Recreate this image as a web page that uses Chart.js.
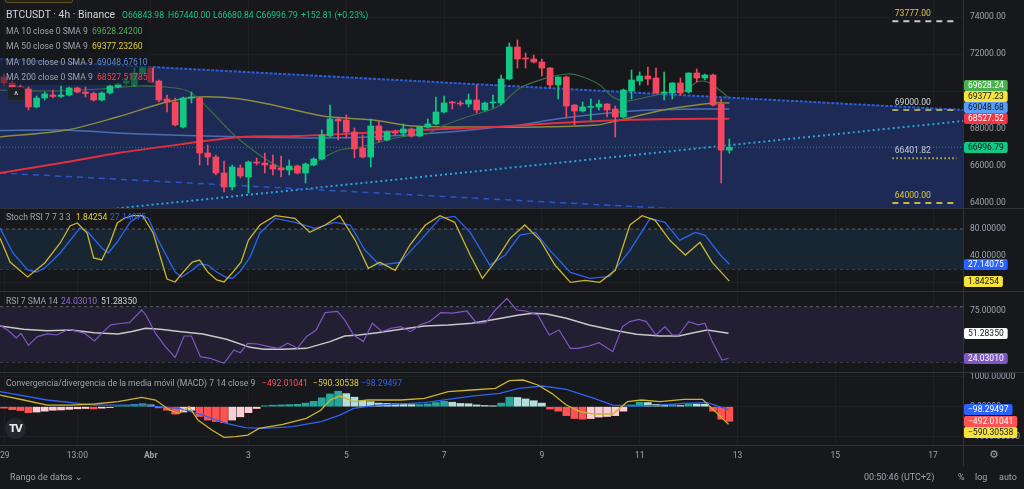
<!DOCTYPE html>
<html><head><meta charset="utf-8">
<script src="https://cdn.jsdelivr.net/npm/chart.js@4.4.1/dist/chart.umd.min.js"></script>
<style>
*{box-sizing:border-box}
html,body{margin:0;padding:0;width:1024px;height:489px;overflow:hidden;background:#16181c;font-family:Roboto,"Noto Sans",sans-serif;}
canvas{position:absolute;left:0;display:block}
.t{position:absolute;white-space:nowrap;line-height:12px;height:12px;font-size:8.6px;color:#9fa3ad;}
.hl{position:absolute;left:0;width:1024px;height:1px;background:#30333b}
</style></head><body>
<canvas id="cMain" width="1024" height="208" style="top:0"></canvas>
<canvas id="cStoch" width="1024" height="83" style="top:208px"></canvas>
<canvas id="cRsi" width="1024" height="81" style="top:291px"></canvas>
<canvas id="cMacd" width="1024" height="94" style="top:372px"></canvas>

<div class="hl" style="top:208px"></div>
<div class="hl" style="top:291px"></div>
<div class="hl" style="top:372px"></div>
<div class="hl" style="top:445px"></div>
<div style="position:absolute;left:963px;top:0;width:1px;height:466px;background:#30333b"></div>

<div style="position:absolute;left:5px;top:-9px;width:68px;height:12px;border:1px solid #5e5222;background:#24221a;border-radius:2px"></div>
<div style="position:absolute;left:0;top:23px;width:152px;height:62px;background:rgba(22,24,28,0.55)"></div>

<div class="t" style="left:6px;top:9px;font-size:10.4px;color:#d1d4dc">BTCUSDT · 4h · Binance</div>
<div class="t" style="left:122px;top:9px;color:#12c882">O66843.98</div>
<div class="t" style="left:168px;top:9px;color:#12c882">H67440.00</div>
<div class="t" style="left:213px;top:9px;color:#12c882">L66680.84</div>
<div class="t" style="left:256px;top:9px;color:#12c882">C66996.79</div>
<div class="t" style="left:301px;top:9px;color:#12c882">+152.81 (+0.23%)</div>

<div class="t" style="left:6px;top:25px">MA 10 close 0 SMA 9</div>
<div class="t" style="left:92px;top:25px;color:#4caf50">69628.24200</div>
<div class="t" style="left:6px;top:40px">MA 50 close 0 SMA 9</div>
<div class="t" style="left:92px;top:40px;color:#e2cf3a">69377.23260</div>
<div class="t" style="left:6px;top:56px">MA 100 close 0 SMA 9</div>
<div class="t" style="left:97px;top:56px;color:#5b8fdb">69048.67610</div>
<div class="t" style="left:6px;top:71px">MA 200 close 0 SMA 9</div>
<div class="t" style="left:97px;top:71px;color:#f0444f">68527.51785</div>

<div style="position:absolute;left:7px;top:87px;width:18px;height:14px;background:#1f2128;border:1px solid #2c2f37;border-radius:3px;color:#d1d4dc;font-size:10px;line-height:16px;text-align:center">^</div>

<div class="t" style="left:6px;top:211px">Stoch RSI 7 7 3 3</div>
<div class="t" style="left:76px;top:211px;color:#e2cf3a">1.84254</div>
<div class="t" style="left:110px;top:211px;color:#2f62f0">27.14075</div>

<div class="t" style="left:6px;top:295px">RSI 7 SMA 14</div>
<div class="t" style="left:61px;top:295px;color:#8e6fd6">24.03010</div>
<div class="t" style="left:101px;top:295px;color:#d1d4dc">51.28350</div>

<div class="t" style="left:6px;top:377px">Convergencia/divergencia de la media móvil (MACD) 7 14 close 9</div>
<div class="t" style="left:262px;top:377px;color:#ff5252">−492.01041</div>
<div class="t" style="left:313px;top:377px;color:#e2cf3a">−590.30538</div>
<div class="t" style="left:361px;top:377px;color:#2f62f0">−98.29497</div>

<div style="position:absolute;left:5px;top:418px;width:21px;height:21px;border-radius:50%;background:#24272f;color:#e8e8e8;font-weight:900;font-size:10px;line-height:21px;text-align:center;font-family:'DejaVu Sans',sans-serif;letter-spacing:-1px">TV</div>

<div class="t" style="left:989px;top:449px;font-size:11px;color:#9fa3ad;font-family:'DejaVu Sans',sans-serif">⚙</div>

<div class="t" style="left:10px;top:471px;font-size:9px">Rango de datos ⌄</div>
<div class="t" style="left:864px;top:471px;font-size:9px">00:50:46 (UTC+2)</div>
<div class="t" style="left:958px;top:471px;font-size:9px">%</div>
<div class="t" style="left:975px;top:471px;font-size:9px">log</div>
<div class="t" style="left:999px;top:471px;font-size:9px">auto</div>

<script>
// ---------- DATA ----------
const candleOpen = [70774,70452,70237,70129,69162,69646,69807,69730,69807,70183,
69968,69890,69538,69914,70237,70452,70345,70989,71258,70560,
69592,69430,68086,69646,69646,66689,66473,65613,64861,65882,
65398,66205,66151,66043,65882,65775,65990,65613,66043,66366,
67603,68516,68463,67818,66958,66473,68140,67388,67818,67764,
67979,67603,68086,68248,68893,69430,69377,69323,69538,69000,
69377,69377,70667,72387,71796,71742,71581,71258,70345,70774,
69269,68947,69140,69162,69323,69054,68624,70022,70560,70828,
70721,69914,69914,70452,69968,70989,70721,70882,69323,66843.98];
const candleHigh = [70936,70560,70345,70237,69753,69968,70076,70291,70237,70237,
70237,69968,69968,70345,70452,70721,71258,71312,71312,70613,
69807,69646,69699,69968,69699,67119,66581,66258,66043,66043,
66258,66420,66689,66581,66527,66312,66043,66151,66420,67925,
69269,68540,68732,68033,67656,68516,68409,67871,67925,68248,
68033,68140,68516,69699,69753,69460,69484,69861,70345,69430,
69807,70882,72602,72764,72065,71957,71742,71300,70790,70828,
69290,69430,69592,69538,69340,69215,70129,71151,71043,71312,
71258,71043,70470,70721,71000,71205,70936,70936,69592,67440.00];
const candleLow = [70345,70183,70022,69000,69108,69538,69646,69680,69753,69914,
69699,69484,69484,69861,70183,70345,70291,70936,70452,69430,
68893,68140,68033,69377,66043,66043,65506,64592,64700,65345,
64538,66043,65613,65506,65398,65506,65560,65076,65990,66312,
67549,67388,67495,66420,66420,65936,67280,67334,67656,67603,
67549,67549,68033,68194,68839,69054,69215,69162,68839,68947,
69108,69269,70613,71258,71258,71527,70828,70183,69592,68570,
68194,68893,68463,69000,68624,67549,68570,69592,70345,70345,
69890,69538,69592,69807,69914,70506,70613,69215,65076,66680.84];
const candleClose = [70452,70237,70129,69162,69646,69861,69730,69807,70183,69968,
69890,69538,69914,70291,70398,70560,70989,71258,70506,69538,
69430,68194,69646,69699,66689,66473,65613,64861,65936,65452,
66205,66151,66043,65828,65775,65990,65613,66097,66366,67656,
68516,68409,67818,66904,66473,68140,67388,67818,67764,67979,
67603,68086,68248,68893,69377,69377,69323,69538,69000,69377,
69430,70667,72387,71742,71742,71581,71258,70345,70774,69215,
68947,69162,69162,69323,69000,68624,70076,70613,70828,70667,
69914,69968,70452,69914,70989,70721,70882,69269,66843.98,66996.79];

// moving averages: [candle index, value]
const ma10 = [[-0.49,70076],[5.6,70022],[11.8,70129],[16.7,70291],[21,70183],[22.8,69968],[24.9,69162],[28.1,67710],[30.2,66958],[32.3,66312],[34.2,65882],[37.2,65936],[39.1,66420],[41.2,66850],[43.7,67011],[46.1,67280],[48.6,67549],[51.9,67710],[53.5,68086],[56.8,68624],[59.6,69000],[60.9,69269],[63.3,70183],[66.6,70721],[69.1,70936],[70.7,70828],[73.1,70345],[74.7,69699],[76.4,69484],[78.9,69699],[81.3,69914],[83.8,70076],[85,70506],[86.3,70506],[87.8,70076],[89,69628.24]];
const ma50 = [[-0.49,67549],[7.7,67925],[13.9,68624],[20,69430],[24,69699],[29,69592],[33,69269],[39.1,68678],[45.3,68463],[50.2,68140],[59.6,68086],[65.8,68086],[72.8,68194],[75.6,68463],[80.9,69000],[87,69377],[89,69377.23]];
const ma100 = [[-0.49,67893],[7,67925],[16.7,67710],[30.2,67549],[38.8,67495],[44.9,67549],[51,67710],[56,67871],[59.6,68033],[63.3,68194],[67,68463],[70.7,68678],[75.6,68893],[79.3,69000],[85.4,69054],[89,69048.68]];
const ma200 = [[-0.49,65613],[7,66151],[14,66689],[22,67173],[29,67549],[36,67603],[44,67764],[51,67925],[60,68086],[68,68302],[76,68463],[83,68516],[89,68527.52]];

// drawings on the price pane: [candle index, price]
const channelTop = [[-0.49,71742],[117.67,69000]];
const channelLow = [[-0.49,65614],[117.67,62872]];
const risingLine = [[12,63626],[117.67,68409]];
const lastPrice = 66996.79;
const levelValues = [73777.00, 69000.00, 66401.82, 64000.00];
const levelSpan = [109, 116.9];

// Stoch RSI (K yellow, D blue)
const stochK = [[-0.49,66.5],[0.74,30.5],[2.9,8],[5,29],[6.9,59],[8.1,84.5],[9,89],[10.2,74],[11,36.5],[12,33.5],[13,59],[13.9,89],[14.8,96.5],[15.8,100],[17,100],[18.3,74],[20,5],[21,0.5],[22,15.5],[23.1,30.5],[24,33.5],[25,15.5],[26.1,3.5],[27,0.5],[28.1,15.5],[29.1,30.5],[30,63.5],[31.4,86],[33.3,100],[35.7,96],[37.5,75],[39.4,86],[41.2,100],[43.1,63],[44.7,21],[46.1,30],[48,18],[49.8,56],[51.7,86],[53.5,100],[55.3,90],[57.2,41],[58.7,6],[60.2,30],[62.1,66],[63.9,86],[65.8,63],[67.6,26],[69.5,0],[71.3,3],[73.1,0],[75,18],[76.8,86],[78.3,100],[79.9,93],[81.7,63],[83.6,41],[85.4,60],[86.9,30],[89,1.84254]];
const stochD = [[-0.49,81.5],[1.1,44],[2.9,18.5],[4,15.5],[5,21.5],[6.9,44],[9.3,81.5],[10.3,75.5],[12,51.5],[12.8,44],[13.9,60.5],[15.5,90.5],[16.7,100],[17.7,96.5],[18.9,63.5],[21,15.5],[21.8,8],[23.1,18.5],[24,27.5],[25,26],[26.1,15.5],[27.4,6.5],[28.1,6.5],[29,17],[30.2,38],[31.4,74],[33.3,96],[35.7,90],[38.2,81],[40.6,90],[42.5,86],[44.3,48],[46.1,26],[48.6,30],[51.1,63],[53.5,96],[55.3,99],[57.2,75],[59.6,26],[61.5,41],[63.3,71],[65.2,75],[67,48],[69.5,15],[71.9,6],[74.3,9],[76.8,48],[79.3,96],[81.1,90],[82.9,63],[84.8,75],[86,71],[87.9,41],[89,27.14075]];

// RSI and its SMA
const rsiLine = [[-0.5,60],[0.67,53],[1.5,46],[2.1,51],[3,38],[4.1,47.5],[5.3,50.4],[6.5,49.3],[7.9,55.5],[9.1,52.9],[9.9,51.1],[11.1,42.8],[12.2,52.9],[13.1,60.2],[14.5,62],[15.4,62.7],[16.9,76.4],[17.4,71],[18.6,51.1],[19.8,36.6],[21,25],[22.1,48.2],[23,48.2],[24.1,25.8],[25.3,24],[27,18.6],[28.2,33],[29,30.1],[29.9,40.3],[31.1,39.5],[32.5,36.6],[33.7,34.8],[34.8,40.3],[36,34.8],[37.1,47.5],[38.3,54.7],[39.4,73.5],[40.9,75],[41.8,65.6],[42.9,49.3],[44.1,42.1],[45.2,62],[46.4,52.9],[47.5,56.6],[48.7,58.4],[49.9,52.9],[51,60.2],[52.2,63.8],[53.6,73.5],[55.1,73],[56.8,75.3],[58,62],[59.1,62.7],[60.3,76.4],[61.7,89.1],[62.9,76.4],[64,75.3],[65.5,71],[66.9,49.3],[68.1,54.7],[69.5,34.8],[70.4,34.8],[71.8,37.3],[73,41],[74.7,31.2],[75.9,58.4],[76.8,63.8],[77.9,66.3],[78.8,63.8],[80,49.3],[81.1,58.4],[82,49.3],[82.8,49.3],[84,63.8],[85.2,60.2],[86,62],[86.9,42.1],[88.1,22.2],[88.9,24.0301]];
const rsiSma = [[-0.49,59],[2.4,55.5],[5.3,54],[8.2,54.7],[11.1,51.8],[14,50.4],[15.7,53],[17.4,56.6],[19.2,55.5],[21.5,53],[24.4,50.4],[27.3,44.6],[30.2,35.9],[31.9,33.7],[34.2,33.7],[37.1,34.8],[40,42.1],[41.8,48.2],[43.5,49.3],[45.8,51.8],[48.7,55.5],[51.6,59.1],[54.5,60.2],[57.4,62],[60.3,66.3],[63.2,71],[64.9,72.8],[66.6,72],[69,67.4],[71.8,60.2],[74.7,54.7],[77.6,50],[80.5,48.2],[82.8,48.2],[84.6,51.8],[86.3,54.7],[88.9,51.2835]];

// MACD 7 14 9
const macdHist = [-50,-100,-130,-200,-180,-150,-120,-110,-90,-70,
-60,-75,-50,-30,20,40,80,100,60,-40,
-120,-250,-180,-120,-330,-450,-500,-540,-450,-340,
-200,-60,30,50,60,70,80,120,180,300,
430,520,440,320,200,170,120,110,100,90,
70,70,90,140,180,150,110,100,60,40,
30,120,320,310,260,200,120,-80,-150,-300,
-400,-420,-400,-350,-330,-300,-150,60,150,140,
80,60,70,40,100,90,80,-150,-420,-492.01041];
const macdLine = [[-0.49,393],[2.4,225],[5.3,56],[8.2,56],[11.1,90],[14,168],[16.9,314],[18.6,225],[20.3,-112],[21.5,-225],[22.7,0],[23.8,-449],[25.5,-786],[27,-1033],[28.4,-1011],[29.9,-955],[31.3,-730],[34.2,-595],[37.1,-393],[38.9,-112],[40,225],[41.2,359],[42.9,168],[44.6,225],[48.7,225],[51.6,281],[54.5,505],[57.4,562],[60.3,618],[62,876],[63.7,898],[65.5,730],[67.2,449],[69,56],[70.7,-168],[72.4,-247],[74.7,-247],[76.5,168],[78.2,225],[80.5,168],[83.4,247],[85.7,247],[87.5,-225],[88.9,-590.30538]];
const macdSignal = [[-0.49,505],[5.3,225],[11.1,56],[16.9,56],[21.5,-56],[24.4,-281],[27.3,-562],[29.6,-707],[31.9,-730],[35.4,-674],[38.9,-505],[41.2,-281],[42.9,-56],[45.8,56],[51.6,135],[57.4,359],[60.8,449],[63.2,618],[66.1,696],[69,584],[72.4,281],[74.7,56],[77.6,22],[80.5,56],[83.4,112],[86.3,135],[88.9,-98.29497]];

// axis ticks
const xTickPos = [0.1, 9, 18, 30, 42, 54, 66, 78, 90, 102, 114];
const xTickText = ['29','13:00','Abr','3','5','7','9','11','13','15','17'];
const priceTicks = [64000,66000,68000,70000,72000,74000];
const stochTicks = [0,40,80];
const rsiTicks = [25,50,75];
const macdTicks = [-1000,0,1000];

// ---------- RENDER ----------
Chart.defaults.font.family = 'Roboto, "Noto Sans", sans-serif';
Chart.defaults.color = '#9fa3ad';
const X_MIN = -0.49, X_MAX = 117.67;
const GRID = 'rgba(255,255,255,0.035)';
const AXIS_LINE = '#30333b';
const UP = '#12c882', DOWN = '#f4475f';
const pts = arr => arr.map(p => ({x:p[0], y:p[1]}));
const flat = (v) => [{x:X_MIN,y:v},{x:X_MAX,y:v}];
const fmt = (v,d) => v.toFixed(d).replace('-','−');

function xScale(showLabels){
  return {
    type:'linear', min:X_MIN, max:X_MAX, offset:false,
    afterBuildTicks: s => { s.ticks = xTickPos.map(v => ({value:v})); },
    afterFit: s => { s.height = showLabels ? 21 : 0; s.paddingLeft = 0; s.paddingRight = 0; s.paddingTop = 0; s.paddingBottom = 0; },
    grid:{color:GRID, drawTicks:false, offset:false},
    border:{display:false},
    ticks: showLabels ? {autoSkip:false, maxRotation:0, padding:6, color:'#9fa3ad',
      font: c => ({size:8.5, weight:(c.tick && c.tick.value===18)?'bold':'normal'}),
      callback:(v,i) => xTickText[i]} : {display:false}
  };
}
function yScale(min,max,ticks,dec){
  return {position:'right', min, max,
    afterBuildTicks: s => { s.ticks = ticks.map(v => ({value:v})); },
    afterFit: s => { s.width = 61; s.paddingTop = 0; s.paddingBottom = 0; s.paddingLeft = 0; s.paddingRight = 0; },
    grid:{color:GRID, drawTicks:false},
    border:{display:true, color:AXIS_LINE},
    ticks:{padding:7, color:'#9fa3ad', font:{size:8.5}, callback:v => fmt(v,dec)}};
}
const tagPlugin = {
  id:'tags',
  afterDraw(chart, args, o){
    if(!o || !o.items) return;
    const ctx = chart.ctx, ys = chart.scales.y, x0 = chart.chartArea.right + 1, h = 11;
    const it = o.items.map(t => Object.assign({}, t, {py: ys.getPixelForValue(t.value)}));
    if(o.dir === 'up'){ it.sort((a,b)=>b.py-a.py); for(let i=1;i<it.length;i++) if(it[i].py > it[i-1].py - h) it[i].py = it[i-1].py - h; }
    else { it.sort((a,b)=>a.py-b.py); for(let i=1;i<it.length;i++) if(it[i].py < it[i-1].py + h) it[i].py = it[i-1].py + h; }
    ctx.save(); ctx.font = '8.5px Roboto'; ctx.textBaseline = 'middle'; ctx.textAlign='left';
    for(const t of it){
      const txt = fmt(t.value, t.dec);
      const w = ctx.measureText(txt).width + 8;
      ctx.fillStyle = t.bg; ctx.beginPath(); ctx.roundRect(x0, Math.round(t.py - h/2), w, h, 2); ctx.fill();
      ctx.fillStyle = t.fg; ctx.fillText(txt, x0 + 4, t.py + 0.5);
    }
    ctx.restore();
  }
};
const levelTextPlugin = {
  id:'levelText',
  afterDatasetsDraw(chart, args, o){
    if(!o || !o.items) return;
    const ctx = chart.ctx, xs = chart.scales.x, ys = chart.scales.y;
    ctx.save(); ctx.font = '8.6px Roboto'; ctx.textBaseline='middle'; ctx.textAlign='left';
    for(const l of o.items){ ctx.fillStyle = l.color; ctx.fillText(l.value.toFixed(2), xs.getPixelForValue(o.x), ys.getPixelForValue(l.value) - 7.5); }
    ctx.restore();
  }
};
Chart.register(tagPlugin, levelTextPlugin);

const baseOpts = (scales, plugins) => ({
  responsive:false, animation:false, events:[],
  layout:{padding:0, autoPadding:false},
  plugins:Object.assign({legend:{display:false}, tooltip:{enabled:false}}, plugins||{}),
  scales
});
const lineDs = (data, color, width, extra) => Object.assign({type:'line', data, borderColor:color, borderWidth:width, pointRadius:0, fill:false, tension:0}, extra||{});

// ---- main price pane ----
const idx = candleOpen.map((_,i)=>i);
const isUp = i => candleClose[i] >= candleOpen[i];
const levelStyles = [
  {line:'#c9c9c9', dash:[6,5], text:'#d8c84a'},
  {line:'#a7a35a', dash:[6,5], text:'#d1d4dc'},
  {line:'#c8b83a', dash:[1.5,2.5], text:'#c5cbe0'},
  {line:'#c8b83a', dash:[6,5], text:'#d8c84a'}
];
const mainDatasets = [
  lineDs(pts(channelTop), '#2c5fd6', 2, {fill:'start', backgroundColor:'#1c2a55', borderDash:[3,1.5], order:20}),
  lineDs(pts(channelLow), '#2a56c6', 1.5, {borderDash:[6,5], order:15}),
  lineDs(pts(risingLine), '#2aa5d9', 2, {borderDash:[2,3], order:15}),
  lineDs(flat(lastPrice), '#1d8a68', 1, {borderDash:[1,2], order:14}),
  lineDs(pts(ma100), '#4a6fb0', 1.5, {tension:0.3, order:9}),
  lineDs(pts(ma50), '#8c8a3c', 1.5, {tension:0.3, order:8}),
  lineDs(pts(ma10), '#3c6e42', 1.2, {tension:0.3, order:7}),
  lineDs(pts(ma200), '#e0303f', 2, {tension:0.3, order:6}),
  {type:'bar', order:3, grouped:false, barThickness:1, minBarLength:1,
    data: idx.map(i => ({x:i, y:[candleLow[i], candleHigh[i]]})),
    backgroundColor: idx.map(i => isUp(i) ? UP : DOWN)},
  {type:'bar', order:2, grouped:false, barThickness:6, minBarLength:1,
    data: idx.map(i => ({x:i, y:[candleOpen[i], candleClose[i]]})),
    backgroundColor: idx.map(i => isUp(i) ? UP : DOWN)}
];
levelValues.forEach((v,k) => mainDatasets.push(lineDs([{x:levelSpan[0],y:v},{x:levelSpan[1],y:v}], levelStyles[k].line, 2, {borderDash:levelStyles[k].dash, order:1})));

new Chart(document.getElementById('cMain'), {
  type:'bar',
  data:{datasets:mainDatasets},
  options: baseOpts({x:xScale(false), y:yScale(63731, 74914, priceTicks, 2)}, {
    tags:{dir:'up', items:[
      {value:69628.24, dec:2, bg:'#4caf50', fg:'#ffffff'},
      {value:69377.23, dec:2, bg:'#f5e23b', fg:'#131722'},
      {value:69048.68, dec:2, bg:'#5b9cf6', fg:'#131722'},
      {value:68527.52, dec:2, bg:'#f23645', fg:'#ffffff'},
      {value:lastPrice, dec:2, bg:'#12c882', fg:'#131722'}]},
    levelText:{x:109.3, items: levelValues.map((v,k)=>({value:v, color:levelStyles[k].text}))}
  })
});

// ---- Stoch RSI ----
new Chart(document.getElementById('cStoch'), {
  type:'line',
  data:{datasets:[
    lineDs(flat(80), '#5d606b', 1, {borderDash:[3,3], fill:'+1', backgroundColor:'#182633', order:10}),
    lineDs(flat(20), '#5d606b', 1, {borderDash:[3,3], order:10}),
    lineDs(pts(stochD), '#2f62f0', 1.3, {order:3}),
    lineDs(pts(stochK), '#c9b52f', 1.3, {order:2})
  ]},
  options: baseOpts({x:xScale(false), y:yScale(-13, 111.5, stochTicks, 5)}, {
    tags:{dir:'down', items:[
      {value:27.14075, dec:5, bg:'#2962ff', fg:'#ffffff'},
      {value:1.84254, dec:5, bg:'#f5e23b', fg:'#131722'}]}
  })
});

// ---- RSI ----
new Chart(document.getElementById('cRsi'), {
  type:'line',
  data:{datasets:[
    lineDs(flat(80), '#5d606b', 1, {borderDash:[3,3], fill:'+1', backgroundColor:'#221f32', order:10}),
    lineDs(flat(20), '#5d606b', 1, {borderDash:[3,3], order:10}),
    lineDs(pts(rsiSma), '#c8c8c8', 1.5, {order:3}),
    lineDs(pts(rsiLine), '#7e57c2', 1.2, {order:2})
  ]},
  options: baseOpts({x:xScale(false), y:yScale(9.15, 97.0, rsiTicks, 5)}, {
    tags:{dir:'down', items:[
      {value:51.28350, dec:5, bg:'#ffffff', fg:'#131722'},
      {value:24.03010, dec:5, bg:'#7e57c2', fg:'#ffffff'}]}
  })
});

// ---- MACD ----
const histColor = macdHist.map((v,i) => {
  const prev = i ? macdHist[i-1] : v;
  if(v >= 0) return v >= prev ? '#26a69a' : '#b2dfdb';
  return v <= prev ? '#ff5252' : '#ffcdd2';
});
new Chart(document.getElementById('cMacd'), {
  type:'bar',
  data:{datasets:[
    {type:'bar', order:5, grouped:false, barThickness:7, data: macdHist.map((v,i)=>({x:i,y:v})), backgroundColor:histColor},
    lineDs(pts(macdSignal), '#2f62f0', 1.3, {order:3}),
    lineDs(pts(macdLine), '#c9b52f', 1.3, {order:2})
  ]},
  options: baseOpts({x:xScale(true), y:yScale(-1290, 1168, macdTicks, 5)}, {
    tags:{dir:'down', items:[
      {value:-98.29497, dec:5, bg:'#2962ff', fg:'#ffffff'},
      {value:-492.01041, dec:5, bg:'#ff5252', fg:'#ffffff'},
      {value:-590.30538, dec:5, bg:'#f5e23b', fg:'#131722'}]}
  })
});
</script>
</body></html>
